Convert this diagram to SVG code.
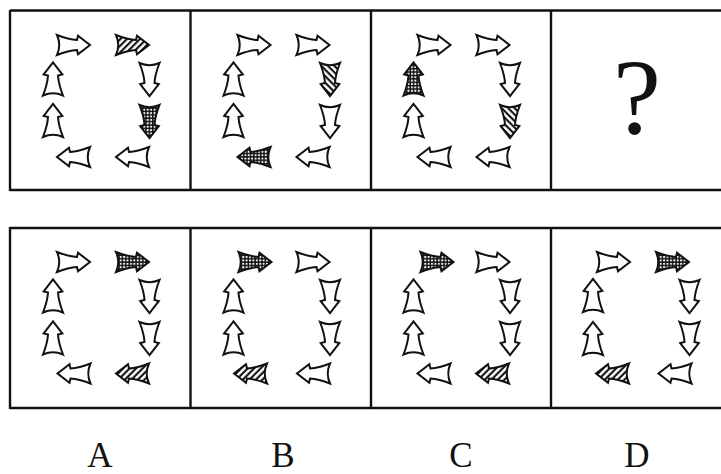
<svg xmlns="http://www.w3.org/2000/svg" xmlns:xlink="http://www.w3.org/1999/xlink" width="721" height="474" viewBox="0 0 721 474">
<style>
.frame{stroke:#111;stroke-width:2.4;fill:none}
.a{stroke:#111;stroke-width:2;stroke-linejoin:miter;fill:#fff}
.chk{fill:url(#checker)}
.str{fill:url(#stripes)}
.lbl{font-family:"Liberation Serif","Times New Roman",serif;font-size:35px;fill:#111;text-anchor:middle}
.q{font-family:"Liberation Serif","Times New Roman",serif;font-size:108px;fill:#111;text-anchor:middle}
</style>
<defs>
<pattern id="checker" patternUnits="userSpaceOnUse" width="3.4" height="3.4">
<rect width="3.4" height="3.4" fill="#111"/>
<rect x="0.9" y="0.9" width="1.9" height="1.9" fill="#fff"/>
</pattern>
<pattern id="stripes" patternUnits="userSpaceOnUse" width="4.6" height="4.6" patternTransform="rotate(45)">
<rect width="4.6" height="4.6" fill="#fff"/>
<rect width="2.1" height="4.6" fill="#111"/>
</pattern>
<path id="arr" d="M -16.5,-10 Q -5,-5.5 3.5,-5 L 4.5,-9.3 L 16.5,0 L 4.5,9.3 L 3.5,5 Q -5,5.5 -16.5,10 Q -12,0 -16.5,-10 Z"/>
</defs>
<rect width="721" height="474" fill="#fff"/>

<g id="frames" class="frame">
<line x1="10" y1="10.5" x2="721" y2="10.5"/>
<line x1="10" y1="190" x2="721" y2="190"/>
<line x1="10" y1="10" x2="10" y2="191"/>
<line x1="190.5" y1="10" x2="190.5" y2="191"/>
<line x1="371" y1="10" x2="371" y2="191"/>
<line x1="551" y1="10" x2="551" y2="191"/>
<line x1="10" y1="228" x2="721" y2="228"/>
<line x1="10" y1="408" x2="721" y2="408"/>
<line x1="10" y1="227" x2="10" y2="409"/>
<line x1="190.5" y1="227" x2="190.5" y2="409"/>
<line x1="371" y1="227" x2="371" y2="409"/>
<line x1="551" y1="227" x2="551" y2="409"/>
</g>

<g id="fig1">
<use href="#arr" class="a" transform="translate(73.5,45)"/>
<use href="#arr" class="a str" transform="translate(132.5,45)"/>
<use href="#arr" class="a" transform="translate(149.5,79.5) rotate(90)"/>
<use href="#arr" class="a chk" transform="translate(149.5,121.5) rotate(90)"/>
<use href="#arr" class="a" transform="translate(132.5,157) rotate(180)"/>
<use href="#arr" class="a" transform="translate(73.5,157) rotate(180)"/>
<use href="#arr" class="a" transform="translate(53,120.5) rotate(-90)"/>
<use href="#arr" class="a" transform="translate(53,79) rotate(-90)"/>
</g>

<g id="fig2">
<use href="#arr" class="a" transform="translate(254,45)"/>
<use href="#arr" class="a" transform="translate(313,45)"/>
<use href="#arr" class="a str" transform="translate(330,79.5) rotate(90)"/>
<use href="#arr" class="a" transform="translate(330,121.5) rotate(90)"/>
<use href="#arr" class="a" transform="translate(313,157) rotate(180)"/>
<use href="#arr" class="a chk" transform="translate(254,157) rotate(180)"/>
<use href="#arr" class="a" transform="translate(233.5,120.5) rotate(-90)"/>
<use href="#arr" class="a" transform="translate(233.5,79) rotate(-90)"/>
</g>

<g id="fig3">
<use href="#arr" class="a" transform="translate(434,45)"/>
<use href="#arr" class="a" transform="translate(493,45)"/>
<use href="#arr" class="a" transform="translate(510,79.5) rotate(90)"/>
<use href="#arr" class="a str" transform="translate(510,121.5) rotate(90)"/>
<use href="#arr" class="a" transform="translate(493,157) rotate(180)"/>
<use href="#arr" class="a" transform="translate(434,157) rotate(180)"/>
<use href="#arr" class="a" transform="translate(413.5,120.5) rotate(-90)"/>
<use href="#arr" class="a chk" transform="translate(413.5,79) rotate(-90)"/>
</g>

<g id="fig4">
<text class="q" x="637" y="133">?</text>
</g>

<g id="optA">
<use href="#arr" class="a" transform="translate(73.5,262)"/>
<use href="#arr" class="a chk" transform="translate(132.5,262)"/>
<use href="#arr" class="a" transform="translate(149.5,296.5) rotate(90)"/>
<use href="#arr" class="a" transform="translate(149.5,338.5) rotate(90)"/>
<use href="#arr" class="a str" transform="translate(132.5,373.5) rotate(180)"/>
<use href="#arr" class="a" transform="translate(74,373.5) rotate(180)"/>
<use href="#arr" class="a" transform="translate(53,338) rotate(-90)"/>
<use href="#arr" class="a" transform="translate(53,296) rotate(-90)"/>
</g>

<g id="optB">
<use href="#arr" class="a chk" transform="translate(255,262)"/>
<use href="#arr" class="a" transform="translate(313,262)"/>
<use href="#arr" class="a" transform="translate(330,296.5) rotate(90)"/>
<use href="#arr" class="a" transform="translate(330,338.5) rotate(90)"/>
<use href="#arr" class="a" transform="translate(313.5,373.5) rotate(180)"/>
<use href="#arr" class="a str" transform="translate(250.5,373.5) rotate(180)"/>
<use href="#arr" class="a" transform="translate(233.5,338) rotate(-90)"/>
<use href="#arr" class="a" transform="translate(233.5,296) rotate(-90)"/>
</g>

<g id="optC">
<use href="#arr" class="a chk" transform="translate(437,262)"/>
<use href="#arr" class="a" transform="translate(493,262)"/>
<use href="#arr" class="a" transform="translate(510,296.5) rotate(90)"/>
<use href="#arr" class="a" transform="translate(510,338.5) rotate(90)"/>
<use href="#arr" class="a str" transform="translate(492.5,373.5) rotate(180)"/>
<use href="#arr" class="a" transform="translate(434,373.5) rotate(180)"/>
<use href="#arr" class="a" transform="translate(413.5,338) rotate(-90)"/>
<use href="#arr" class="a" transform="translate(413.5,296) rotate(-90)"/>
</g>

<g id="optD">
<use href="#arr" class="a" transform="translate(613.5,262)"/>
<use href="#arr" class="a chk" transform="translate(672.5,262)"/>
<use href="#arr" class="a" transform="translate(689.5,296.5) rotate(90)"/>
<use href="#arr" class="a" transform="translate(689.5,338.5) rotate(90)"/>
<use href="#arr" class="a" transform="translate(675,373.5) rotate(180)"/>
<use href="#arr" class="a str" transform="translate(612.5,373.5) rotate(180)"/>
<use href="#arr" class="a" transform="translate(593,338.5) rotate(-90)"/>
<use href="#arr" class="a" transform="translate(593,295.5) rotate(-90)"/>
</g>

<g id="labels">
<text class="lbl" x="100" y="467">A</text>
<text class="lbl" x="283" y="467">B</text>
<text class="lbl" x="461" y="467">C</text>
<text class="lbl" x="637" y="467">D</text>
</g>
</svg>
